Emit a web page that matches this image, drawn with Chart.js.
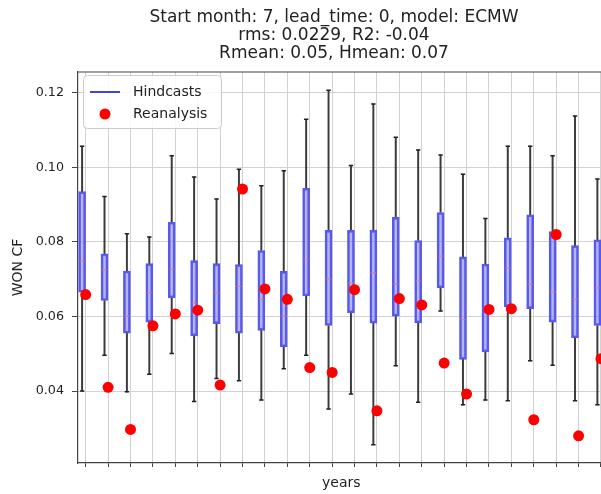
<!DOCTYPE html>
<html>
<head>
<meta charset="utf-8">
<script src="https://cdn.jsdelivr.net/npm/chart.js@4.4.1/dist/chart.umd.min.js"></script>
<style>
  html, body { margin: 0; padding: 0; background: #fff; overflow: hidden; }
  #wrap { width: 610px; height: 494px; }
</style>
</head>
<body>
<div id="wrap"><canvas id="boxChart"></canvas></div>
<script>
// one box per hindcast year (tick labels are blank in the original)
const yearPos = [1, 2, 3, 4, 5, 6, 7, 8, 9, 10, 11, 12, 13, 14, 15, 16, 17, 18, 19, 20, 21, 22, 23, 24];
const yTicks = [0.04, 0.06, 0.08, 0.10, 0.12];
const titleLines = ['Start month: 7, lead_time: 0, model: ECMW', 'rms: 0.0229, R2: -0.04', 'Rmean: 0.05, Hmean: 0.07'];

// Hindcasts ensemble spread
const whiskerLow  = [0.0400, 0.0496, 0.0398, 0.0445, 0.0501, 0.0372, 0.0434, 0.0428, 0.0376, 0.0460, 0.0496, 0.0352, 0.0392, 0.0256, 0.0468, 0.0370, 0.0615, 0.0363, 0.0376, 0.0374, 0.0481, 0.0469, 0.0374, 0.0363];
const q1          = [0.0665, 0.0643, 0.0555, 0.0585, 0.0650, 0.0548, 0.0581, 0.0555, 0.0563, 0.0519, 0.0655, 0.0576, 0.0610, 0.0582, 0.0601, 0.0583, 0.0677, 0.0485, 0.0505, 0.0626, 0.0621, 0.0585, 0.0543, 0.0576];
const median      = [0.0750, 0.0726, 0.0601, 0.0664, 0.0728, 0.0637, 0.0664, 0.0681, 0.0646, 0.0601, 0.0753, 0.0701, 0.0690, 0.0717, 0.0686, 0.0697, 0.0762, 0.0592, 0.0619, 0.0730, 0.0686, 0.0665, 0.0646, 0.0677];
const q3          = [0.0935, 0.0768, 0.0722, 0.0742, 0.0853, 0.0750, 0.0742, 0.0739, 0.0777, 0.0721, 0.0944, 0.0831, 0.0831, 0.0831, 0.0866, 0.0804, 0.0879, 0.0760, 0.0741, 0.0811, 0.0873, 0.0828, 0.0790, 0.0806];
const whiskerHigh = [0.1057, 0.0922, 0.0822, 0.0813, 0.1031, 0.0974, 0.0915, 0.0995, 0.0951, 0.0991, 0.1129, 0.1207, 0.1005, 0.1170, 0.1081, 0.1047, 0.1033, 0.0982, 0.0863, 0.1057, 0.1057, 0.1031, 0.1138, 0.0969];

// Reanalysis value per year
const reanalysis  = [0.0659, 0.0410, 0.0297, 0.0575, 0.0607, 0.0617, 0.0416, 0.0942, 0.0674, 0.0646, 0.0463, 0.0450, 0.0672, 0.0347, 0.0648, 0.0631, 0.0475, 0.0392, 0.0619, 0.0621, 0.0323, 0.0820, 0.0280, 0.0487];

const FONT = 'DejaVu Sans';
const boxShift = 0.16; // boxes sit slightly left of the year ticks

const at = arr => arr.map((v, i) => ({ x: yearPos[i] - boxShift, y: v }));
const span = (lo, hi) => lo.map((v, i) => ({ x: yearPos[i] - boxShift, y: [v, hi[i]] }));

// title, legend inside the axes and top spine (matplotlib look)
const mplDecor = {
    id: 'mplDecor',
    afterDraw(chart) {
        const { ctx, chartArea: a } = chart;
        ctx.save();
        ctx.strokeStyle = '#444';
        ctx.lineWidth = 1.2;
        ctx.beginPath();
        ctx.moveTo(a.left, a.top);
        ctx.lineTo(a.right, a.top);
        ctx.stroke();

        // figure title, centred a bit left of the (cropped) axes centre
        ctx.fillStyle = '#222';
        ctx.font = '17px "' + FONT + '"';
        ctx.textAlign = 'center';
        ctx.textBaseline = 'middle';
        titleLines.forEach((t, i) => ctx.fillText(t, a.left + 256, 18 + i * 18));

        const lx = a.left + 5, ly = a.top + 3;
        ctx.beginPath();
        ctx.roundRect(lx + 0.5, ly + 0.5, 138, 53, 4);
        ctx.fillStyle = 'rgba(255,255,255,0.85)';
        ctx.fill();
        ctx.strokeStyle = '#cccccc';
        ctx.lineWidth = 1;
        ctx.stroke();

        ctx.strokeStyle = '#4444dd';
        ctx.lineWidth = 2;
        ctx.beginPath();
        ctx.moveTo(lx + 7, ly + 17);
        ctx.lineTo(lx + 37, ly + 17);
        ctx.stroke();

        ctx.fillStyle = 'red';
        ctx.beginPath();
        ctx.arc(lx + 22, ly + 39, 5.5, 0, Math.PI * 2);
        ctx.fill();

        ctx.fillStyle = '#222';
        ctx.font = '14px "' + FONT + '"';
        ctx.textAlign = 'left';
        ctx.fillText('Hindcasts', lx + 50, ly + 17);
        ctx.fillText('Reanalysis', lx + 50, ly + 39);
        ctx.restore();
    }
};

new Chart(document.getElementById('boxChart'), {
    type: 'scatter',
    data: {
        datasets: [
            { type: 'bar', label: 'low whisker', data: span(whiskerLow, q1), barThickness: 1.3,
              backgroundColor: '#3a3a3a', grouped: false, order: 5 },
            { type: 'bar', label: 'high whisker', data: span(q3, whiskerHigh), barThickness: 1.3,
              backgroundColor: '#3a3a3a', grouped: false, order: 5 },
            { label: 'caps', data: at(whiskerLow).concat(at(whiskerHigh)), pointStyle: 'line',
              pointRadius: 2.2, borderColor: '#222', borderWidth: 1.5, order: 4 },
            { type: 'bar', label: 'Hindcasts', data: span(q1, q3), barThickness: 7,
              borderWidth: 2, borderColor: '#5858ea', backgroundColor: 'rgba(110,110,240,0.5)',
              borderSkipped: false, grouped: false, order: 3 },
            { label: 'median', data: at(median), pointStyle: 'line', pointRadius: 2.5,
              borderColor: 'rgba(235,120,100,0.75)', borderWidth: 1.2, order: 2 },
            { label: 'Reanalysis', data: yearPos.map((x, i) => ({ x, y: reanalysis[i] })),
              pointRadius: 5.5, backgroundColor: 'red', borderWidth: 0, order: 1 }
        ]
    },
    options: {
        responsive: true,
        maintainAspectRatio: false,
        animation: false,
        layout: { padding: { left: 0, right: 5, top: 72, bottom: 0 } },
        plugins: {
            legend: { display: false },
            tooltip: { enabled: false },
            title: { display: false }
        },
        scales: {
            x: {
                type: 'linear',
                min: 0.657,
                max: 24.157,
                offset: false,
                afterBuildTicks: s => { s.ticks = yearPos.map(v => ({ value: v })); },
                afterFit: s => { s.height = 31; },
                ticks: { autoSkip: false, callback: () => '', font: { size: 1 }, padding: 0 },
                grid: { color: '#d2d2d2', lineWidth: 1, tickLength: 4, tickColor: '#444', offset: false },
                border: { color: '#444', width: 1.2 },
                title: { display: true, text: 'years', color: '#222',
                         font: { family: FONT, size: 14 }, padding: { top: 2, bottom: 2 } }
            },
            y: {
                min: 0.0207,
                max: 0.1256,
                bounds: 'data',
                afterBuildTicks: s => { s.ticks = yTicks.map(v => ({ value: v })); },
                afterFit: s => { s.width = 78; },
                ticks: { callback: v => v.toFixed(2), color: '#222',
                         font: { family: FONT, size: 12.7 }, padding: 8 },
                grid: { color: '#d2d2d2', lineWidth: 1, tickLength: 6, tickColor: '#444' },
                border: { color: '#444', width: 1.2 },
                title: { display: true, text: 'WON CF', color: '#222',
                         font: { family: FONT, size: 14 }, padding: { top: 10, bottom: 0 } }
            }
        }
    },
    plugins: [mplDecor]
});
</script>
</body>
</html>
